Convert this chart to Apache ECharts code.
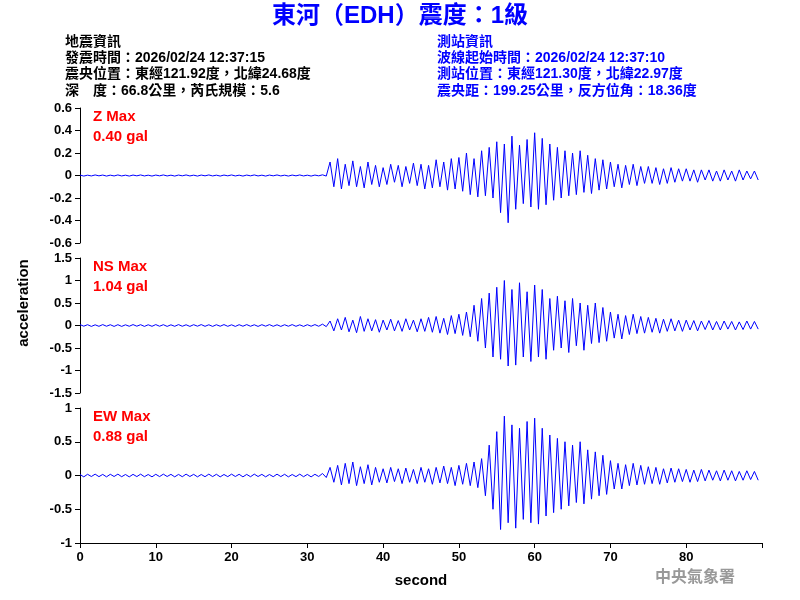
<!DOCTYPE html>
<html><head><meta charset="utf-8">
<script src="https://cdn.jsdelivr.net/npm/echarts@6/dist/echarts.min.js"></script>
<style>body{margin:0}#c{width:800px;height:600px}</style></head>
<body><div id="c"></div>
<script>
const step = 0.5; // seconds per sample
const xTicks = [0,10,20,30,40,50,60,70,80];
const zVals = [
0.004,-0.005,0.003,-0.004,0.005,-0.003,0.004,-0.005,0.003,-0.004,
0.005,-0.004,0.003,-0.005,0.004,-0.003,0.005,-0.004,0.003,-0.005,
0.004,-0.003,0.005,-0.004,0.003,-0.005,0.004,-0.003,0.005,-0.004,
0.003,-0.005,0.004,-0.003,0.005,-0.004,0.003,-0.005,0.004,-0.003,
0.005,-0.004,0.003,-0.005,0.004,-0.003,0.005,-0.004,0.003,-0.005,
0.004,-0.003,0.005,-0.004,0.003,-0.005,0.004,-0.003,0.005,-0.004,
0.003,-0.005,0.004,-0.003,0.006,-0.005,0.12,-0.1,0.15,-0.12,
0.1,-0.09,0.13,-0.1,0.08,-0.11,0.12,-0.08,0.09,-0.1,
0.07,-0.08,0.1,-0.06,0.09,-0.1,0.08,-0.07,0.11,-0.09,
0.1,-0.12,0.09,-0.11,0.14,-0.1,0.12,-0.13,0.15,-0.12,
0.16,-0.14,0.2,-0.17,0.15,-0.19,0.22,-0.18,0.25,-0.2,
0.3,-0.33,0.28,-0.42,0.35,-0.3,0.27,-0.25,0.32,-0.28,
0.38,-0.3,0.33,-0.26,0.28,-0.22,0.25,-0.2,0.22,-0.18,
0.2,-0.17,0.22,-0.15,0.18,-0.16,0.15,-0.13,0.14,-0.12,
0.12,-0.1,0.1,-0.11,0.09,-0.08,0.1,-0.09,0.08,-0.07,
0.08,-0.07,0.07,-0.08,0.06,-0.07,0.07,-0.06,0.06,-0.05,
0.06,-0.05,0.05,-0.06,0.05,-0.04,0.05,-0.05,0.04,-0.05,
0.05,-0.04,0.04,-0.05,0.05,-0.04,0.04,-0.03,0.04,-0.04];
const nsVals = [
0.02,-0.015,0.018,-0.02,0.015,-0.018,0.02,-0.016,0.017,-0.02,
0.018,-0.02,0.015,-0.017,0.02,-0.015,0.018,-0.02,0.016,-0.018,
0.02,-0.016,0.018,-0.02,0.015,-0.018,0.02,-0.017,0.016,-0.02,
0.018,-0.015,0.02,-0.018,0.016,-0.02,0.017,-0.016,0.02,-0.018,
0.015,-0.02,0.018,-0.016,0.02,-0.017,0.016,-0.02,0.018,-0.015,
0.02,-0.018,0.016,-0.02,0.017,-0.016,0.02,-0.018,0.015,-0.02,
0.018,-0.016,0.02,-0.017,0.03,-0.025,0.1,-0.12,0.15,-0.1,
0.18,-0.14,0.12,-0.16,0.2,-0.13,0.15,-0.12,0.13,-0.15,
0.12,-0.1,0.14,-0.12,0.11,-0.13,0.15,-0.1,0.12,-0.14,
0.15,-0.13,0.18,-0.15,0.2,-0.17,0.16,-0.2,0.22,-0.18,
0.25,-0.22,0.3,-0.25,0.45,-0.35,0.6,-0.5,0.72,-0.7,
0.85,-0.75,1.0,-0.9,0.8,-0.88,0.95,-0.7,0.75,-0.8,
0.9,-0.7,0.8,-0.75,0.6,-0.55,0.65,-0.5,0.55,-0.6,
0.6,-0.45,0.5,-0.55,0.45,-0.4,0.5,-0.38,0.4,-0.35,
0.3,-0.28,0.25,-0.3,0.22,-0.2,0.25,-0.18,0.2,-0.17,
0.18,-0.15,0.16,-0.17,0.14,-0.13,0.15,-0.12,0.12,-0.13,
0.12,-0.1,0.11,-0.12,0.1,-0.09,0.11,-0.1,0.09,-0.1,
0.1,-0.08,0.09,-0.1,0.08,-0.09,0.1,-0.08,0.09,-0.08];
const ewVals = [
0.015,-0.02,0.018,-0.015,0.02,-0.017,0.016,-0.02,0.018,-0.015,
0.02,-0.018,0.015,-0.02,0.017,-0.016,0.02,-0.018,0.015,-0.02,
0.018,-0.016,0.02,-0.015,0.017,-0.02,0.016,-0.018,0.02,-0.015,
0.017,-0.02,0.015,-0.018,0.02,-0.016,0.018,-0.02,0.015,-0.017,
0.02,-0.015,0.018,-0.02,0.016,-0.018,0.02,-0.015,0.017,-0.02,
0.015,-0.018,0.02,-0.016,0.018,-0.02,0.015,-0.017,0.02,-0.018,
0.016,-0.02,0.018,-0.015,0.03,-0.03,0.12,-0.1,0.15,-0.14,
0.18,-0.12,0.2,-0.15,0.13,-0.12,0.16,-0.14,0.12,-0.1,
0.1,-0.11,0.12,-0.09,0.1,-0.12,0.11,-0.1,0.09,-0.12,
0.12,-0.1,0.1,-0.13,0.12,-0.11,0.14,-0.12,0.12,-0.15,
0.15,-0.13,0.18,-0.15,0.2,-0.18,0.25,-0.3,0.45,-0.5,
0.65,-0.8,0.88,-0.7,0.75,-0.78,0.7,-0.65,0.8,-0.7,
0.85,-0.72,0.7,-0.6,0.6,-0.55,0.55,-0.5,0.5,-0.45,
0.45,-0.4,0.5,-0.42,0.38,-0.35,0.35,-0.3,0.3,-0.28,
0.22,-0.2,0.18,-0.2,0.16,-0.15,0.18,-0.14,0.15,-0.13,
0.13,-0.12,0.12,-0.13,0.1,-0.11,0.11,-0.1,0.1,-0.09,
0.09,-0.1,0.08,-0.09,0.09,-0.08,0.08,-0.07,0.07,-0.08,
0.08,-0.07,0.07,-0.08,0.06,-0.07,0.07,-0.06,0.06,-0.07];
const traces = [
  {name:'Z', max:'0.40 gal', vals:zVals, min:-0.6, maxY:0.6, interval:0.2},
  {name:'NS', max:'1.04 gal', vals:nsVals, min:-1.5, maxY:1.5, interval:0.5},
  {name:'EW', max:'0.88 gal', vals:ewVals, min:-1, maxY:1, interval:0.5}
];
const leftInfo = ['地震資訊','發震時間：2026/02/24 12:37:15','震央位置：東經121.92度，北緯24.68度','深　度：66.8公里，芮氏規模：5.6'];
const rightInfo = ['測站資訊','波線起始時間：2026/02/24 12:37:10','測站位置：東經121.30度，北緯22.97度','震央距：199.25公里，反方位角：18.36度'];

const tops=[108,258,408], h=135;
const font='Arial, "Liberation Sans", "Noto Sans CJK TC", sans-serif';
const grids=[],xAxes=[],yAxes=[],series=[];
traces.forEach((t,i)=>{
  grids.push({left:80,right:38,top:tops[i],height:h});
  const last=i===2;
  xAxes.push({gridIndex:i,type:'value',min:0,max:90,interval:10,show:true,
    axisLine:{show:last,onZero:false,lineStyle:{color:'#000'}},axisTick:{show:last,lineStyle:{color:'#000'}},
    axisLabel:{show:last,color:'#000',fontSize:13,fontWeight:'bold',fontFamily:font,
      formatter:v=>xTicks.includes(v)?String(v):''},
    splitLine:{show:false},
    name:last?'second':'',nameLocation:'middle',nameGap:30,nameTextStyle:{color:'#000',fontSize:15,fontWeight:'bold',fontFamily:font}});
  yAxes.push({gridIndex:i,type:'value',min:t.min,max:t.maxY,interval:t.interval,
    axisLine:{show:true,lineStyle:{color:'#000'}},axisTick:{show:true,lineStyle:{color:'#000'}},
    axisLabel:{color:'#000',fontSize:13,fontWeight:'bold',fontFamily:font},splitLine:{show:false}});
  series.push({type:'line',xAxisIndex:i,yAxisIndex:i,symbol:'none',
    lineStyle:{color:'#0000ff',width:1},animation:false,
    data:t.vals.map((v,k)=>[k*step,v])});
});
const graphics=[];
traces.forEach((t,i)=>{
  graphics.push({type:'text',left:93,top:tops[i]+1,style:{text:t.name+' Max',fill:'#ff0000',font:'bold 15px '+font}});
  graphics.push({type:'text',left:93,top:tops[i]+21,style:{text:t.max,fill:'#ff0000',font:'bold 15px '+font}});
});
leftInfo.forEach((s,k)=>graphics.push({type:'text',left:65,top:35+k*16.3,style:{text:s,fill:'#000',font:'bold 14px '+font}}));
rightInfo.forEach((s,k)=>graphics.push({type:'text',left:437,top:35+k*16.3,style:{text:s,fill:'#0000ff',font:'bold 14px '+font}}));
graphics.push({type:'text',left:'center',top:4,style:{text:'東河（EDH）震度：1級',fill:'#0000ff',font:'bold 24px '+font}});
graphics.push({type:'text',left:655,top:570,style:{text:'中央氣象署',fill:'#999',font:'bold 16px '+font}});
graphics.push({type:'text',x:24,y:303,rotation:Math.PI/2,style:{text:'acceleration',fill:'#000',font:'bold 15px '+font,align:'center',verticalAlign:'middle'}});
const chart=echarts.init(document.getElementById('c'));
chart.setOption({backgroundColor:'#fff',animation:false,grid:grids,xAxis:xAxes,yAxis:yAxes,series,graphic:graphics});
</script></body></html>
